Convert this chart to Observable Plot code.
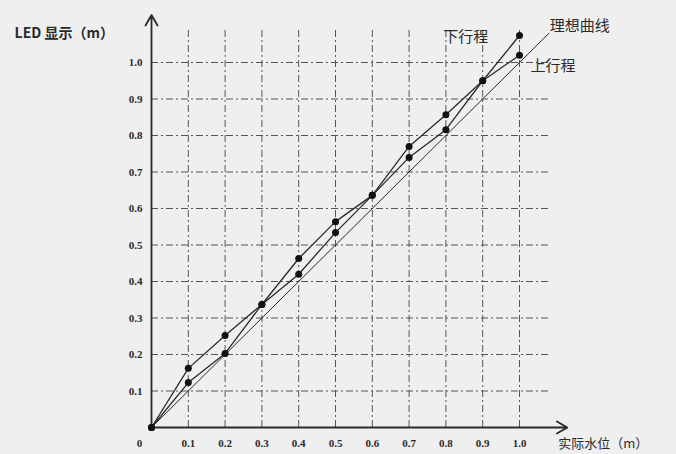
<!DOCTYPE html>
<html>
<head>
<meta charset="utf-8">
<script src="https://cdn.jsdelivr.net/npm/d3@7"></script>
<script src="https://cdn.jsdelivr.net/npm/@observablehq/plot@0.6"></script>
<style>
  html, body { margin: 0; padding: 0; background: #efefef; }
  #chart { width: 676px; height: 454px; }
</style>
</head>
<body>
<div id="chart"></div>
<script>
const xs = [0, 0.1, 0.2, 0.3, 0.4, 0.5, 0.6, 0.7, 0.8, 0.9, 1.0];
const downStroke = [0, 0.162, 0.252, 0.337, 0.463, 0.564, 0.636, 0.77, 0.857, 0.95, 1.074];
const upStroke = [0, 0.123, 0.203, 0.337, 0.42, 0.534, 0.636, 0.74, 0.816, 0.95, 1.02];
const idealX = [0, 1.08];
const idealY = [0, 1.08];
const tickValues = [0.1, 0.2, 0.3, 0.4, 0.5, 0.6, 0.7, 0.8, 0.9, 1.0];
const tickLabels = ["0.1", "0.2", "0.3", "0.4", "0.5", "0.6", "0.7", "0.8", "0.9", "1.0"];
const seriesLabels = ["下行程", "上行程", "理想曲线"];
const xAxisTitle = "实际水位（m）";
const yAxisTitle = "LED 显示（m）";

const down = xs.map((x, i) => ({x, y: downStroke[i]}));
const up = xs.map((x, i) => ({x, y: upStroke[i]}));
const ideal = idealX.map((x, i) => ({x, y: idealY[i]}));
const ticks = tickValues.map((v, i) => ({v, label: tickLabels[i]}));

const ink = "#2a2a2a";
const gridColor = "#555";
const serif = "'Liberation Serif', 'DejaVu Serif', serif";
const cjk = "'Noto Sans CJK SC', sans-serif";

const chart = Plot.plot({
  width: 676,
  height: 454,
  margin: 0,
  style: {background: "#efefef", overflow: "visible"},
  x: {domain: [0, 1], range: [151, 519], axis: null},
  y: {domain: [0, 1], range: [427, 62], axis: null},
  marks: [
    // grid
    Plot.ruleY(ticks, {y: "v", x1: 0, x2: 1.08, stroke: gridColor, strokeWidth: 1, strokeDasharray: "7,3,2,3"}),
    Plot.ruleX(ticks, {x: "v", y1: 0, y2: 1.09, stroke: gridColor, strokeWidth: 1, strokeDasharray: "7,3,2,3"}),
    // axes with arrows
    Plot.arrow([{x1: 0, y1: 0, x2: 1.13, y2: 0}], {x1: "x1", y1: "y1", x2: "x2", y2: "y2", stroke: ink, strokeWidth: 1.8, headLength: 10}),
    Plot.arrow([{x1: 0, y1: 0, x2: 0, y2: 1.13}], {x1: "x1", y1: "y1", x2: "x2", y2: "y2", stroke: ink, strokeWidth: 1.8, headLength: 10}),
    // ideal line
    Plot.line(ideal, {x: "x", y: "y", stroke: ink, strokeWidth: 1}),
    // strokes
    Plot.line(down, {x: "x", y: "y", stroke: ink, strokeWidth: 1.3}),
    Plot.line(up, {x: "x", y: "y", stroke: ink, strokeWidth: 1.3}),
    Plot.dot(down, {x: "x", y: "y", r: 3.5, fill: "#111"}),
    Plot.dot(up, {x: "x", y: "y", r: 3.5, fill: "#111"}),
    // tick labels
    Plot.text(ticks, {x: "v", y: 0, text: "label", dy: 16, fontFamily: serif, fontWeight: "bold", fontSize: 11, fill: ink}),
    Plot.text(ticks, {x: 0, y: "v", text: "label", dx: -9, textAnchor: "end", fontFamily: serif, fontWeight: "bold", fontSize: 11, fill: ink}),
    Plot.text(["0"], {x: 0, y: 0, text: d => d, dx: -12, dy: 16, fontFamily: serif, fontWeight: "bold", fontSize: 11, fill: ink}),
    // series labels
    Plot.text([seriesLabels[0]], {x: 0.793, y: 1.068, text: d => d, textAnchor: "start", fontFamily: cjk, fontSize: 15, fill: ink}),
    Plot.text([seriesLabels[1]], {x: 1.03, y: 0.99, text: d => d, textAnchor: "start", fontFamily: cjk, fontSize: 15, fill: ink}),
    Plot.text([seriesLabels[2]], {x: 1.082, y: 1.10, text: d => d, textAnchor: "start", fontFamily: cjk, fontSize: 15, fill: ink}),
    // axis titles
    Plot.text([yAxisTitle], {x: -0.372, y: 1.079, text: d => d, textAnchor: "start", fontFamily: cjk, fontWeight: "bold", fontSize: 14, fill: ink}),
    Plot.text([xAxisTitle], {x: 1.105, y: 0, dy: 16, text: d => d, textAnchor: "start", fontFamily: cjk, fontSize: 13, fill: ink})
  ]
});
document.getElementById("chart").appendChild(chart);
</script>
</body>
</html>
